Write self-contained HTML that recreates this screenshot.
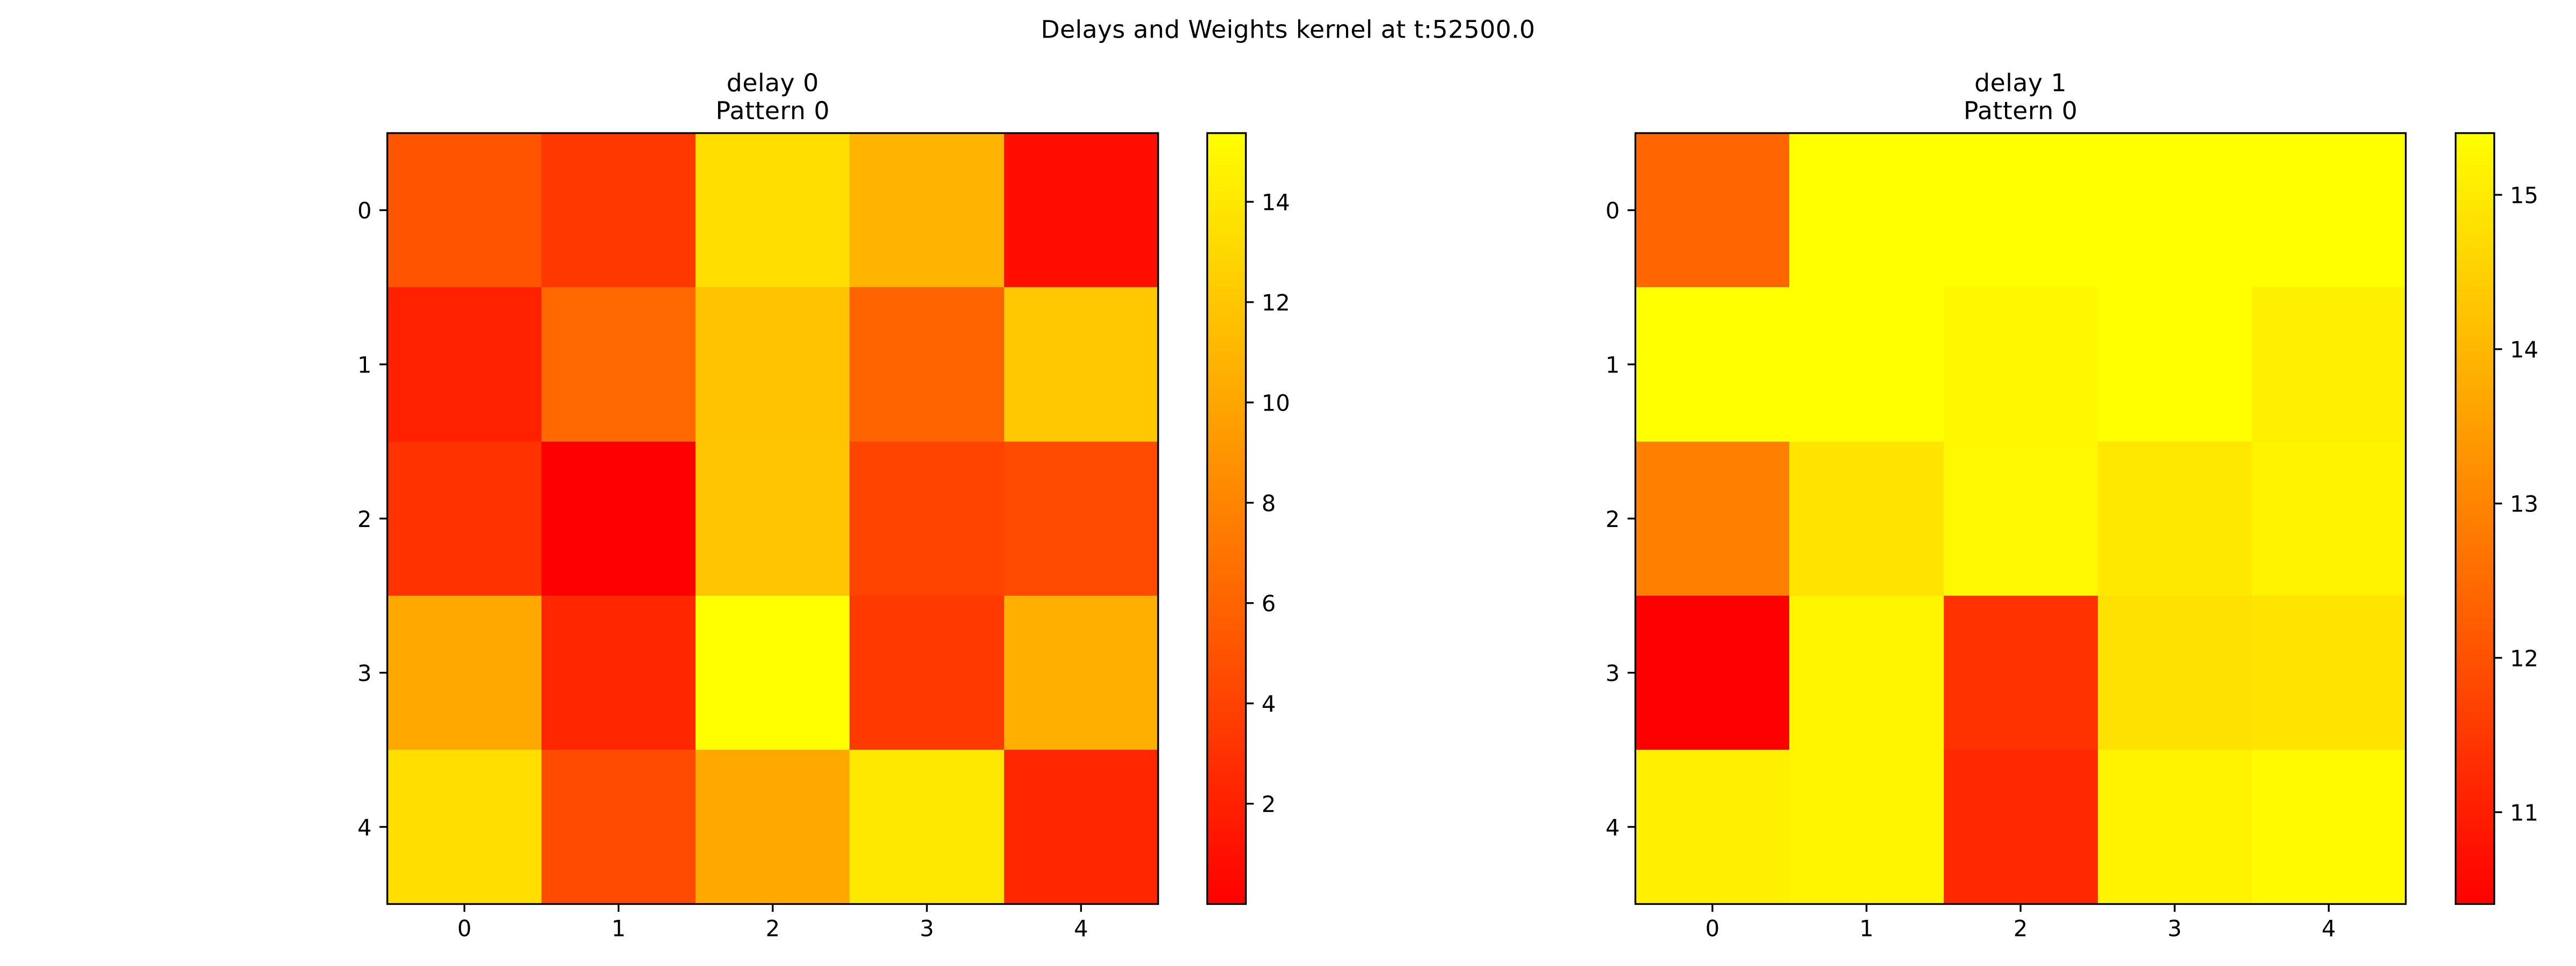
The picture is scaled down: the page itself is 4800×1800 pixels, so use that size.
<!DOCTYPE html>
<html lang="en">
<head>
<meta charset="utf-8">
<title>Delays and Weights kernel</title>
<style>
  html, body { margin: 0; padding: 0; background: #ffffff; }
  body { width: 4800px; height: 1800px; overflow: hidden; }
  svg { display: block; }
  text { font-family: "DejaVu Sans", "Liberation Sans", sans-serif; fill: #000000; }
</style>
</head>
<body>
<svg id="figure" xmlns="http://www.w3.org/2000/svg" width="4800" height="1800" viewBox="0 0 4800 1800">
  <defs>
    <linearGradient id="autumn-gradient" x1="0" y1="1" x2="0" y2="0">
      <stop offset="0" stop-color="#ff0000"></stop>
      <stop offset="1" stop-color="#ffff00"></stop>
    </linearGradient>
  </defs>
  <rect x="0" y="0" width="4800" height="1800" fill="#ffffff"></rect>
  <text x="2400" y="70.5" font-size="45.83" letter-spacing="0.35" text-anchor="middle">Delays and Weights kernel at t:52500.0</text>
</svg>
<script>
const categories = [0, 1, 2, 3, 4];
const xTickLabels = ["0", "1", "2", "3", "4"];
const yTickLabels = ["0", "1", "2", "3", "4"];

const delay0Row0 = [5.12, 3.38, 13.38, 10.85, 0.90];
const delay0Row1 = [1.99, 6.33, 11.75, 6.03, 12.05];
const delay0Row2 = [3.01, 0.00, 11.87, 4.10, 4.52];
const delay0Row3 = [10.13, 2.29, 15.37, 3.50, 10.55];
const delay0Row4 = [13.38, 4.52, 10.13, 13.98, 2.29];
const delay0Values = [delay0Row0, delay0Row1, delay0Row2, delay0Row3, delay0Row4];
const delay0ColorTicks = [2, 4, 6, 8, 10, 12, 14];

const delay1Row0 = [12.40, 15.40, 15.40, 15.40, 15.40];
const delay1Row1 = [15.40, 15.40, 15.24, 15.40, 15.11];
const delay1Row2 = [12.91, 14.87, 15.26, 14.95, 15.17];
const delay1Row3 = [10.405, 15.20, 11.38, 14.81, 14.87];
const delay1Row4 = [15.11, 15.20, 11.19, 15.17, 15.30];
const delay1Values = [delay1Row0, delay1Row1, delay1Row2, delay1Row3, delay1Row4];
const delay1ColorTicks = [11, 12, 13, 14, 15];

const svgNS = "http://www.w3.org/2000/svg";
const figure = document.getElementById("figure");
const TICK_LEN = 14.6;
const TICK_PAD = 14.6;
const SPINE = 3.33;
const TICK_FONT = 41.67;

function make(tag, attrs, parent) {
  const node = document.createElementNS(svgNS, tag);
  for (const key in attrs) node.setAttribute(key, attrs[key]);
  parent.appendChild(node);
  return node;
}

function autumn(t) {
  const clamped = Math.max(0, Math.min(1, t));
  return "rgb(255," + Math.round(clamped * 255) + ",0)";
}

function drawPanel(prefix, box, cbar, matrix, colorTicks, lines) {
  const panel = make("g", {}, figure);
  
  

  const flat = matrix.reduce((a, b) => a.concat(b), []);
  const vmin = Math.min.apply(null, flat);
  const vmax = Math.max.apply(null, flat);
  const n = categories.length;
  const xScale = v => box.left + (v + 0.5) * (box.right - box.left) / n;
  const yScale = v => box.top + (v + 0.5) * (box.bottom - box.top) / n;
  const cScale = v => cbar.bottom - (v - vmin) / (vmax - vmin) * (cbar.bottom - cbar.top);

  const cells = make("g", { "shape-rendering": "crispEdges" }, panel);
  
  
  matrix.forEach((row, r) => {
    row.forEach((value, c) => {
      const x0 = Math.round(xScale(c - 0.5));
      const x1 = Math.round(xScale(c + 0.5));
      const y0 = Math.round(yScale(r - 0.5));
      const y1 = Math.round(yScale(r + 0.5));
      const cell = make("rect", {
        x: x0, y: y0, width: x1 - x0, height: y1 - y0,
        fill: autumn((value - vmin) / (vmax - vmin))
      }, cells);
      
      
    });
  });

  const frame = make("rect", {
    x: box.left, y: box.top, width: box.right - box.left, height: box.bottom - box.top,
    fill: "none", stroke: "#000000", "stroke-width": SPINE
  }, panel);
  
  

  categories.forEach((cat, i) => {
    const px = xScale(cat);
    const tick = make("line", {
      x1: px, x2: px, y1: box.bottom, y2: box.bottom + TICK_LEN,
      stroke: "#000000", "stroke-width": SPINE
    }, panel);
    
    
    const label = make("text", {
      x: px, y: box.bottom + 60, "font-size": TICK_FONT, "text-anchor": "middle"
    }, panel);
    label.textContent = xTickLabels[i];
    
    
  });

  categories.forEach((cat, i) => {
    const py = yScale(cat);
    const tick = make("line", {
      x1: box.left - TICK_LEN, x2: box.left, y1: py, y2: py,
      stroke: "#000000", "stroke-width": SPINE
    }, panel);
    
    
    const label = make("text", {
      x: box.left - TICK_LEN - TICK_PAD, y: py + 15.5, "font-size": TICK_FONT, "text-anchor": "end"
    }, panel);
    label.textContent = yTickLabels[i];
    
    
  });

  const centerX = (box.left + box.right) / 2;
  const titleTop = make("text", {
    x: centerX, y: box.top - 78, "font-size": 45.83, "letter-spacing": 0.45, "text-anchor": "middle"
  }, panel);
  titleTop.textContent = lines[0];
  
  
  const titleBottom = make("text", {
    x: centerX, y: box.top - 26, "font-size": 45.83, "letter-spacing": 0.45, "text-anchor": "middle"
  }, panel);
  titleBottom.textContent = lines[1];
  
  

  const ramp = make("rect", {
    x: cbar.left, y: cbar.top, width: cbar.right - cbar.left, height: cbar.bottom - cbar.top,
    fill: "url(#autumn-gradient)"
  }, panel);
  
  
  const rampFrame = make("rect", {
    x: cbar.left, y: cbar.top, width: cbar.right - cbar.left, height: cbar.bottom - cbar.top,
    fill: "none", stroke: "#000000", "stroke-width": SPINE
  }, panel);
  
  

  colorTicks.forEach(value => {
    const py = cScale(value);
    const tick = make("line", {
      x1: cbar.right, x2: cbar.right + TICK_LEN, y1: py, y2: py,
      stroke: "#000000", "stroke-width": SPINE
    }, panel);
    
    
    const label = make("text", {
      x: cbar.right + TICK_LEN + TICK_PAD, y: py + 15.5, "font-size": TICK_FONT, "text-anchor": "start"
    }, panel);
    label.textContent = String(value);
    
    
  });
}

drawPanel("delay-0",
  { left: 721.7, right: 2158, top: 248, bottom: 1684.5 },
  { left: 2249.5, right: 2321.5, top: 248, bottom: 1684.5 },
  delay0Values, delay0ColorTicks, ["delay 0", "Pattern 0"]);

drawPanel("delay-1",
  { left: 3047.3, right: 4482.8, top: 248, bottom: 1684.5 },
  { left: 4575.7, right: 4647.7, top: 248, bottom: 1684.5 },
  delay1Values, delay1ColorTicks, ["delay 1", "Pattern 0"]);
</script>
</body>
</html>
